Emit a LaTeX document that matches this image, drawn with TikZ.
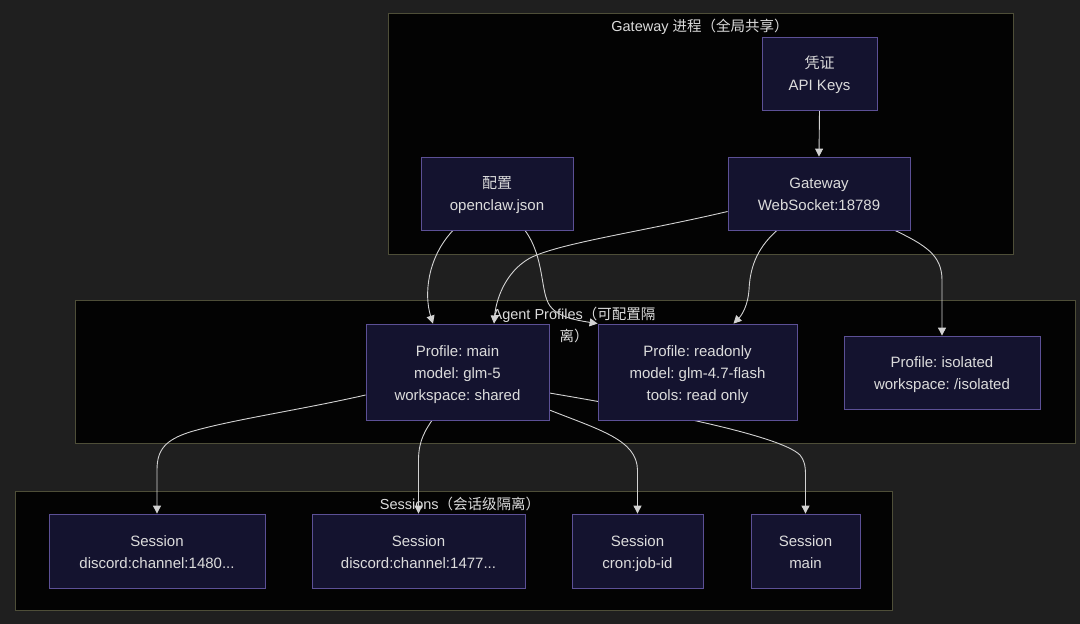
\documentclass[tikz,border=0pt]{standalone}
\usepackage{fontspec}
\setmainfont{Liberation Sans}
\newfontfamily\cjk{Noto Sans CJK SC}
\frenchspacing
\usetikzlibrary{arrows.meta}
\newcommand\topstrut{\rule{0pt}{17.4pt}}
\newcommand\botstrut{\rule[-4.6pt]{0pt}{4.6pt}}
\definecolor{bgc}{HTML}{1F1F1F}
\definecolor{clfill}{HTML}{030303}
\definecolor{cldraw}{HTML}{4E4E38}
\definecolor{nfill}{HTML}{14132F}
\definecolor{ndraw}{HTML}{5C5096}
\definecolor{txt}{HTML}{DCDCDC}
\definecolor{edgec}{HTML}{D2D2D2}
\pgfdeclarelayer{bg}
\pgfdeclarelayer{edges}
\pgfsetlayers{bg,edges,main}
\tikzset{
  cluster/.style={draw=cldraw, fill=clfill, line width=0.8pt, inner sep=0pt},
  cltitle/.style={text=txt, font=\fontsize{14.5}{22}\selectfont, align=center, inner sep=0pt},
  box/.style={draw=ndraw, fill=nfill, line width=0.8pt, text=txt, align=center,
    font=\fontsize{15}{22}\selectfont, inner sep=0pt},
  edge/.style={draw=edgec, line width=0.9pt, -{Triangle[length=8pt,width=8pt]}}
}
\begin{document}
\begin{tikzpicture}[x=1pt,y=-1pt]
\useasboundingbox (0,0) rectangle (1080,624);
\begin{pgfonlayer}{bg}
\fill[bgc] (0,0) rectangle (1080,624);
\node[cluster, minimum width=625pt, minimum height=241pt] (gcl) at (700.5,133.5) {};
\node[cluster, minimum width=1000pt, minimum height=143pt] (pcl) at (575,371.5) {};
\node[cluster, minimum width=877pt, minimum height=119pt] (scl) at (453.5,550.5) {};
\node[cltitle] (gtitle) at (700,26.5) {Gateway {\cjk 进程（全局共享）}};
\node[cltitle] (ptitle) at (574,324.5) {Agent Profiles{\cjk （可配置隔}\\{\cjk 离）}};
\node[cltitle] (stitle) at (460,503.5) {Sessions{\cjk （会话级隔离）}};
\end{pgfonlayer}

\node[box, minimum width=115pt, minimum height=73pt] (cred) at (819.5,73.5) {\topstrut{\cjk 凭证}\\API Keys\botstrut};
\node[box, minimum width=152pt, minimum height=73pt] (cfg) at (497,193.5) {\topstrut{\cjk 配置}\\openclaw.json\botstrut};
\node[box, minimum width=182pt, minimum height=73pt] (gw) at (819,193.5) {\topstrut Gateway\\WebSocket:18789\botstrut};
\node[box, minimum width=183pt, minimum height=96pt] (pmain) at (457.5,372) {\topstrut Profile: main\\model: glm-5\\workspace: shared\botstrut};
\node[box, minimum width=199pt, minimum height=96pt] (pro) at (697.5,372) {\topstrut Profile: readonly\\model: glm-4.7-flash\\tools: read only\botstrut};
\node[box, minimum width=196pt, minimum height=73pt] (piso) at (942,372.5) {\topstrut Profile: isolated\\workspace: /isolated\botstrut};
\node[box, minimum width=216pt, minimum height=74pt] (s1) at (157,551) {\topstrut Session\\discord:channel:1480...\botstrut};
\node[box, minimum width=213pt, minimum height=74pt] (s2) at (418.5,551) {\topstrut Session\\discord:channel:1477...\botstrut};
\node[box, minimum width=131pt, minimum height=74pt] (s3) at (637.5,551) {\topstrut Session\\cron:job-id\botstrut};
\node[box, minimum width=109pt, minimum height=74pt] (s4) at (805.5,551) {\topstrut Session\\main\botstrut};

\begin{pgfonlayer}{edges}
\draw[edge] (cred.south) -- (gw.north);
\draw[edge] ([xshift=-44pt]cfg.south) .. controls (427,258) and (424,295) .. ([xshift=-24.5pt]pmain.north);
\draw[edge] ([xshift=28pt]cfg.south) .. controls (545,258) and (540,292) .. (550,306) .. controls (558,317) and (575,320) .. (pro.north west);
\draw[edge] ([yshift=-18pt]gw.west) .. controls (640,232) and (560,243) .. (530,258) .. controls (505,272) and (496,300) .. ([xshift=36.5pt]pmain.north);
\draw[edge] ([xshift=-42pt]gw.south) .. controls (755,250) and (750,270) .. (749,290) .. controls (748,305) and (742,315) .. ([xshift=36pt]pro.north);
\draw[edge] ([xshift=76pt]gw.south) .. controls (925,245) and (942,255) .. (942,280) -- (piso.north);
\draw[edge] ([yshift=-23pt]pmain.west) .. controls (300,410) and (230,420) .. (190,432) .. controls (165,440) and (157,450) .. (157,470) -- (s1.north);
\draw[edge] ([xshift=-25.5pt]pmain.south) .. controls (422,435) and (418,445) .. (418.5,465) -- (s2.north);
\draw[edge] ([yshift=-38pt]pmain.east) .. controls (600,430) and (637,440) .. (637.5,470) -- (s3.north);
\draw[edge] ([yshift=-21pt]pmain.east) .. controls (650,410) and (780,435) .. (800,455) .. controls (804,460) and (805.5,465) .. (805.5,475) -- (s4.north);
\end{pgfonlayer}
\end{tikzpicture}
\end{document}
